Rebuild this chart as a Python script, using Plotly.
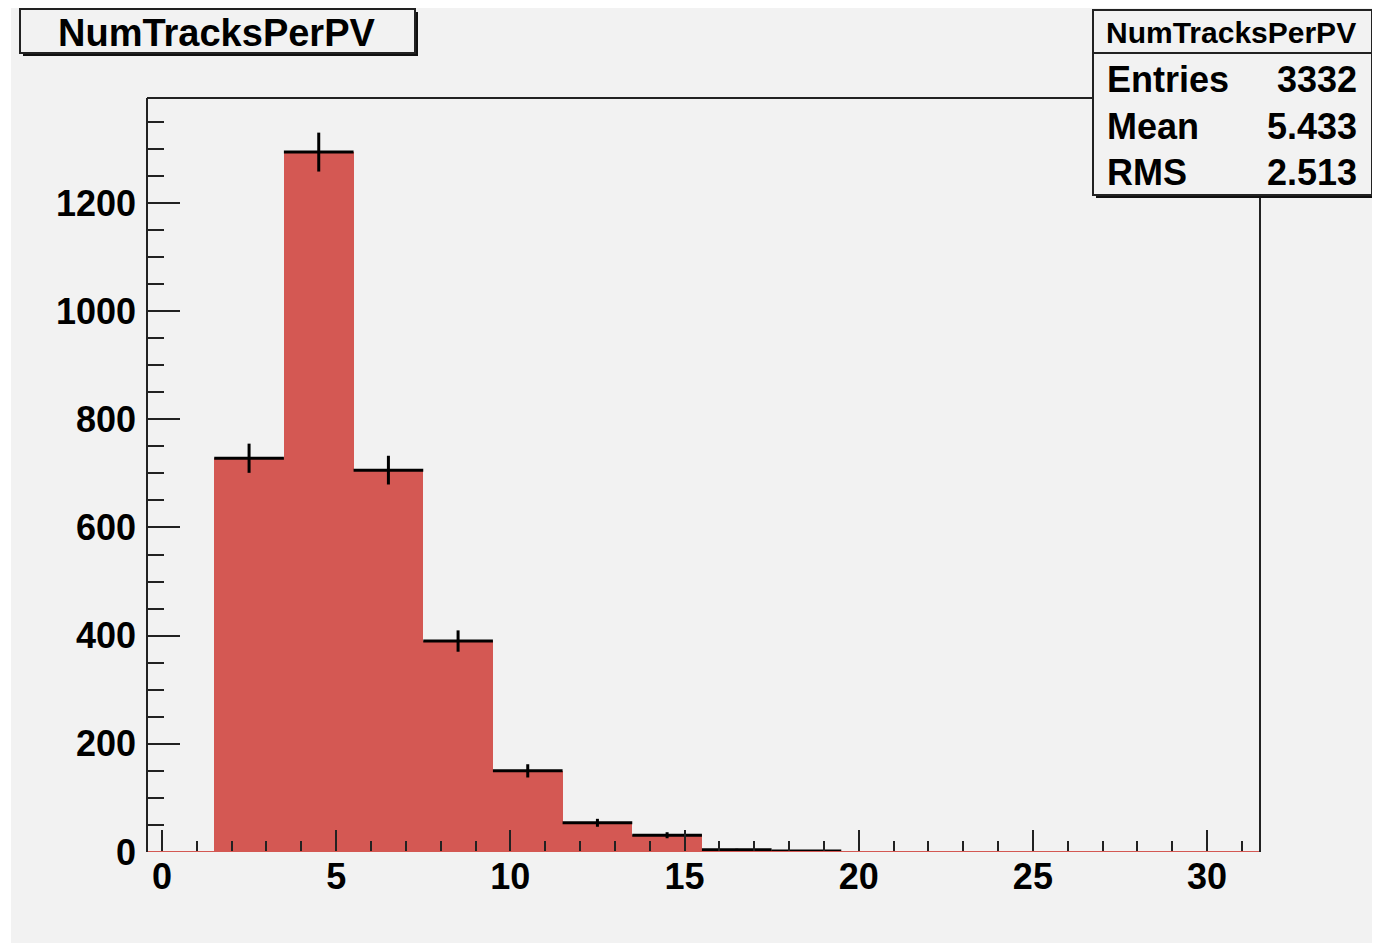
import numpy as np
import plotly.graph_objects as go

# ---- data ----
bin_centers = [0.5, 2.5, 4.5, 6.5, 8.5, 10.5, 12.5, 14.5, 16.5, 18.5,
               20.5, 22.5, 24.5, 26.5, 28.5, 30.5]
bin_counts = [0, 728, 1294, 706, 390, 150, 54, 31, 4, 2,
              0, 0, 0, 0, 0, 0]
bin_width = 2
title_text = "NumTracksPerPV"
stats_labels = ["Entries", "Mean", "RMS"]
stats_values = ["3332", "5.433", "2.513"]
x_tickvals = [0, 5, 10, 15, 20, 25, 30]
y_tickvals = [0, 200, 400, 600, 800, 1000, 1200]

OFF = 8  # page body margin
W, H = 1380 - OFF, 943 - OFF
L, R, T, B = 147, 1260, 98, 852  # reference pixel coords of the frame
FONT = "Liberation Sans, Arial, Helvetica, sans-serif"
RED = "#d45853"
BG = "#f2f2f2"
DARK = "#222222"


def px(x):
    return (x - L) / (R - L)


def py(y):
    return (B - y) / (B - T)


fig = go.Figure()
fig.add_trace(go.Bar(x=bin_centers, y=bin_counts, width=bin_width,
                     marker=dict(color=RED, line=dict(width=0)),
                     showlegend=False, hoverinfo="skip"))

nz = [i for i, c in enumerate(bin_counts) if c > 0]
ex = [bin_centers[i] for i in nz]
ey = [bin_counts[i] for i in nz]
fig.add_trace(go.Scatter(
    x=ex, y=ey, mode="markers",
    marker=dict(size=1, color="black"),
    error_x=dict(type="constant", value=bin_width / 2, thickness=3, width=0, color="black"),
    error_y=dict(type="data", array=list(np.sqrt(ey)), thickness=3, width=0, color="black"),
    showlegend=False, hoverinfo="skip"))

shapes = []
# white strip on left edge of the image (body margin gives the rest)
shapes.append(dict(type="rect", xref="paper", yref="paper", x0=px(0), x1=px(11), y0=py(H + OFF), y1=py(0),
                   fillcolor="white", line=dict(width=0), layer="below"))
# red zero line of histogram
shapes.append(dict(type="line", xref="x", yref="y", x0=-0.5, x1=31.5, y0=0, y1=0,
                   line=dict(color=RED, width=2), layer="above"))
# frame
for (x0, y0, x1, y1) in [(L, B, L, T), (L, T, R, T), (R, T, R, B)]:
    shapes.append(dict(type="line", xref="paper", yref="paper", x0=px(x0), x1=px(x1),
                       y0=py(y0), y1=py(y1), line=dict(color=DARK, width=2), layer="above"))


def box(x0, y0, x1, y1):
    shapes.append(dict(type="rect", xref="paper", yref="paper", x0=px(x0 + 3), x1=px(x1 + 3),
                       y0=py(y1 + 3), y1=py(y0 + 3), fillcolor="#111111", line=dict(width=0), layer="above"))
    shapes.append(dict(type="rect", xref="paper", yref="paper", x0=px(x0), x1=px(x1),
                       y0=py(y1), y1=py(y0), fillcolor=BG, line=dict(color=DARK, width=2), layer="above"))


box(20, 9, 415, 53)
box(1093, 10, 1372, 195)
shapes.append(dict(type="line", xref="paper", yref="paper", x0=px(1093), x1=px(1372),
                   y0=py(53), y1=py(53), line=dict(color=DARK, width=2), layer="above"))

annotations = []
annotations.append(dict(x=px(216), y=py(33), xref="paper", yref="paper", text=title_text,
                        showarrow=False, xanchor="center", yanchor="middle",
                        font=dict(family=FONT, size=38, color="black", weight="bold")))
annotations.append(dict(x=px(1231), y=py(33), xref="paper", yref="paper", text=title_text,
                        showarrow=False, xanchor="center", yanchor="middle",
                        font=dict(family=FONT, size=30, color="black", weight="bold")))
row_y = [79, 127, 173]
for lab, val, yy in zip(stats_labels, stats_values, row_y):
    annotations.append(dict(x=px(1105), y=py(yy), xref="paper", yref="paper", text=lab,
                            showarrow=False, xanchor="left", yanchor="middle",
                            font=dict(family=FONT, size=36, color="black", weight="bold")))
    annotations.append(dict(x=px(1359), y=py(yy), xref="paper", yref="paper", text=val,
                            showarrow=False, xanchor="right", yanchor="middle",
                            font=dict(family=FONT, size=36, color="black", weight="bold")))

fig.update_layout(
    width=W, height=H,
    margin=dict(l=L - OFF, r=(W + OFF) - R, t=T - OFF, b=(H + OFF) - B, pad=0),
    paper_bgcolor=BG, plot_bgcolor=BG,
    bargap=0, showlegend=False,
    shapes=shapes, annotations=annotations,
    xaxis=dict(range=[-0.43, 31.52], showgrid=False, zeroline=False, showline=False,
               tickmode="array", tickvals=x_tickvals, ticks="inside", ticklen=22,
               tickwidth=2, tickcolor=DARK,
               minor=dict(dtick=1, ticks="inside", ticklen=11, tickwidth=2, tickcolor=DARK,
                          showgrid=False),
               ticklabelstandoff=0,
               tickfont=dict(family=FONT, size=36, color="black", weight="bold")),
    yaxis=dict(range=[0, 1394], showgrid=False, zeroline=False, showline=False,
               tickmode="array", tickvals=y_tickvals, ticks="inside", ticklen=33,
               tickwidth=2, tickcolor=DARK,
               minor=dict(dtick=50, tick0=0, ticks="inside", ticklen=17, tickwidth=2,
                          tickcolor=DARK, showgrid=False),
               ticklabelstandoff=10,
               tickfont=dict(family=FONT, size=36, color="black", weight="bold")),
)

fig.write_html("out.html")
